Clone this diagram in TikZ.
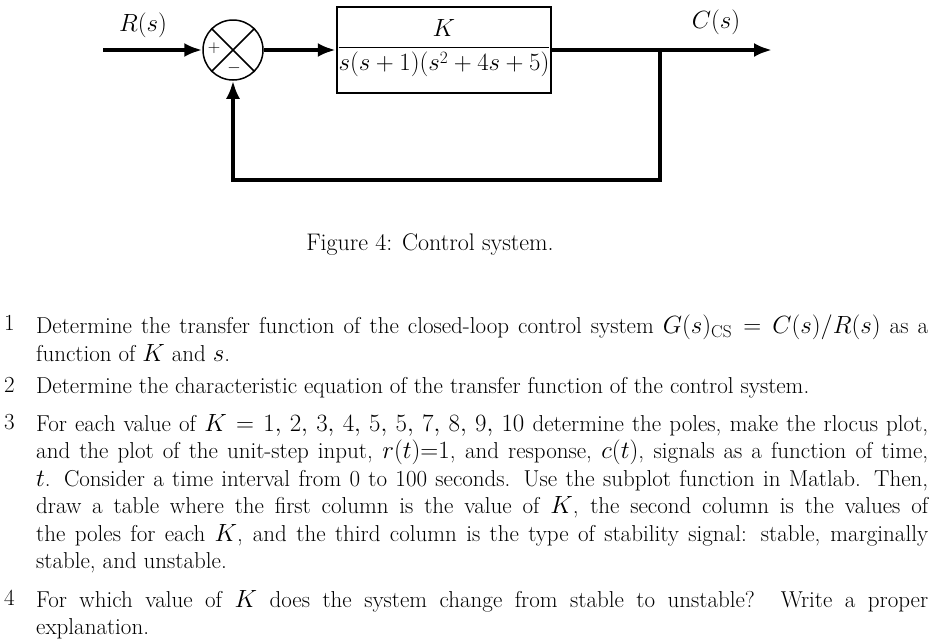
\documentclass[tikz,border=0pt]{standalone}
\usetikzlibrary{arrows.meta}
\begin{document}
\begin{tikzpicture}[x=1pt,y=-1pt,
  sig/.style={line width=4.5pt,-{Latex[length=18pt,width=14pt]}},
  dtxt/.style={font=\fontsize{24}{28}\selectfont,inner sep=0pt},
  txt/.style={font=\fontsize{23}{27.5}\selectfont,inner sep=0pt},
  para/.style={txt,anchor=north west,text width=892pt,align=justify},
  num/.style={txt,anchor=north west}]
\useasboundingbox (0,0) rectangle (934,643);
\node[draw,line width=1.5pt,circle,minimum size=60pt,inner sep=0pt] (sum) at (233,50) {};
\draw[line width=1.5pt] (sum.north west)--(sum.south east) (sum.north east)--(sum.south west);
\node[dtxt,font=\fontsize{18}{18}\selectfont] (plus) at (214,48) {$+$};
\node[dtxt,font=\fontsize{18}{18}\selectfont] (minus) at (234,68) {$-$};
\node[draw,line width=2.5pt,minimum width=214pt,minimum height=86pt,inner sep=0pt] (G) at (444,50) {};
\node[dtxt] (frac) at (444,48) {$\displaystyle\frac{K}{s(s+1)(s^2+4s+5)}$};
\coordinate (in) at (103,50);
\coordinate (out) at (772,50);
\coordinate (br) at (660,50);
\coordinate (c1) at (660,180);
\coordinate (c2) at (233,180);
\node[dtxt] (R) at (143,25) {$R(s)$};
\node[dtxt] (C) at (716,22) {$C(s)$};
\draw[sig] (in) -- (sum.west);
\draw[sig] (sum.east) -- (G.west);
\draw[sig] (G.east) -- (out);
\draw[sig] (br) -- (c1) -- (c2) -- (sum.south);
\node[dtxt] (cap) at (430,245) {Figure 4: Control system.};
\node[num] (n1) at (4,315) {1};
\node[para] (p1) at (36,315) {Determine the transfer function of the closed-loop control system $G(s)_{\mathrm{CS}}=C(s)/R(s)$ as a\linebreak function of $K$ and $s$.};
\node[num] (n2) at (4,377) {2};
\node[para] (p2) at (36,377) {Determine the characteristic equation of the transfer function of the control system.};
\node[num] (n3) at (4,414) {3};
\node[para] (p3) at (36,414) {For each value of $K=1,\,2,\,3,\,4,\,5,\,5,\,7,\,8,\,9,\,10$ determine the poles, make the rlocus plot,\linebreak and the plot of the unit-step input, $r(t){=}1$, and response, $c(t)$, signals as a function of time,\linebreak $t$. Consider a time interval from 0 to 100 seconds. Use the subplot function in Matlab. Then,\linebreak draw a table where the first column is the value of $K$, the second column is the values of\linebreak the poles for each $K$, and the third column is the type of stability signal: stable, marginally\linebreak stable, and unstable.};
\node[num] (n4) at (4,590) {4};
\node[para] (p4) at (36,590) {For which value of $K$ does the system change from stable to unstable? Write a proper\linebreak explanation.};
\end{tikzpicture}
\end{document}
